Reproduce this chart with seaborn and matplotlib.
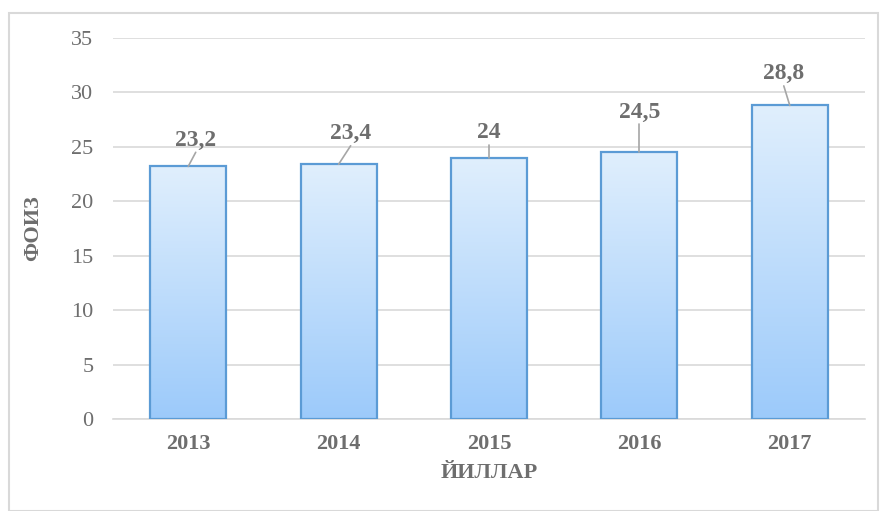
import matplotlib.pyplot as plt
import seaborn as sns
import numpy as np
import pandas as pd
from matplotlib.patches import Rectangle
from matplotlib.colors import LinearSegmentedColormap

years = ["2013", "2014", "2015", "2016", "2017"]
percent = [23.2, 23.4, 24, 24.5, 28.8]
labels = ["23,2", "23,4", "24", "24,5", "28,8"]
# label anchor (x offset in slots, y in data units)
label_dx = [0.05, 0.08, 0.0, 0.0, -0.04]
label_y = [25.6, 26.2, 26.3, 28.2, 31.7]

sns.set_style("white")
plt.rcParams["font.family"] = ["Liberation Serif", "DejaVu Serif"]
txt = "#6e6e6e"

df = pd.DataFrame({"year": years, "pct": percent})

fig = plt.figure(figsize=(8.8, 5.11), dpi=100)
ax = fig.add_axes([113 / 880, 1 - 419 / 511, 752 / 880, 381 / 511])

sns.barplot(data=df, x="year", y="pct", ax=ax, width=0.505,
            color="#bcdcfb", edgecolor="#5b9bd5", linewidth=1.6)

# vertical gradient inside each bar
grad = np.linspace(0, 1, 256).reshape(-1, 1)
cmap = LinearSegmentedColormap.from_list("g", ["#9ccafa", "#e0effd"])
for p in ax.patches:
    x0, w, h = p.get_x(), p.get_width(), p.get_height()
    p.set_facecolor("none")
    im = ax.imshow(grad, cmap=cmap, aspect="auto", origin="lower",
                   extent=[x0, x0 + w, 0, h], zorder=2.9)
    im.set_clip_path(p)
    p.set_zorder(3)

for i, (v, t) in enumerate(zip(percent, labels)):
    lx = i + label_dx[i]
    ly = label_y[i]
    ax.plot([lx, i], [ly - 1.1, v], color="#a6a6a6", lw=1.2, zorder=4)
    ax.text(lx, ly, t, ha="center", va="center", fontsize=17,
            fontweight="bold", color=txt)

ax.set_xlim(-0.5, 4.5)
ax.set_ylim(0, 35)
ax.set_yticks(range(0, 36, 5))
ax.yaxis.grid(True, color="#d9d9d9", lw=1.2)
ax.set_axisbelow(True)
for s in ["top", "right", "left"]:
    ax.spines[s].set_visible(False)
ax.spines["bottom"].set_color("#d9d9d9")
ax.spines["bottom"].set_linewidth(1.2)
ax.tick_params(axis="both", length=0, colors=txt)
ax.tick_params(axis="y", labelsize=16, pad=14)
ax.tick_params(axis="x", labelsize=16, pad=11)
for lab in ax.get_xticklabels():
    lab.set_fontweight("bold")
ax.set_xlabel("ЙИЛЛАР", fontsize=16, fontweight="bold", color=txt, labelpad=6)
ax.set_ylabel("ФОИЗ", fontsize=16, fontweight="bold", color=txt, labelpad=20)

fig.patches.append(Rectangle((9 / 880, 0), 869 / 880, 1 - 13 / 511,
                             transform=fig.transFigure, fill=False,
                             edgecolor="#d9d9d9", lw=1.5))

fig.savefig("out.png", dpi=100)
